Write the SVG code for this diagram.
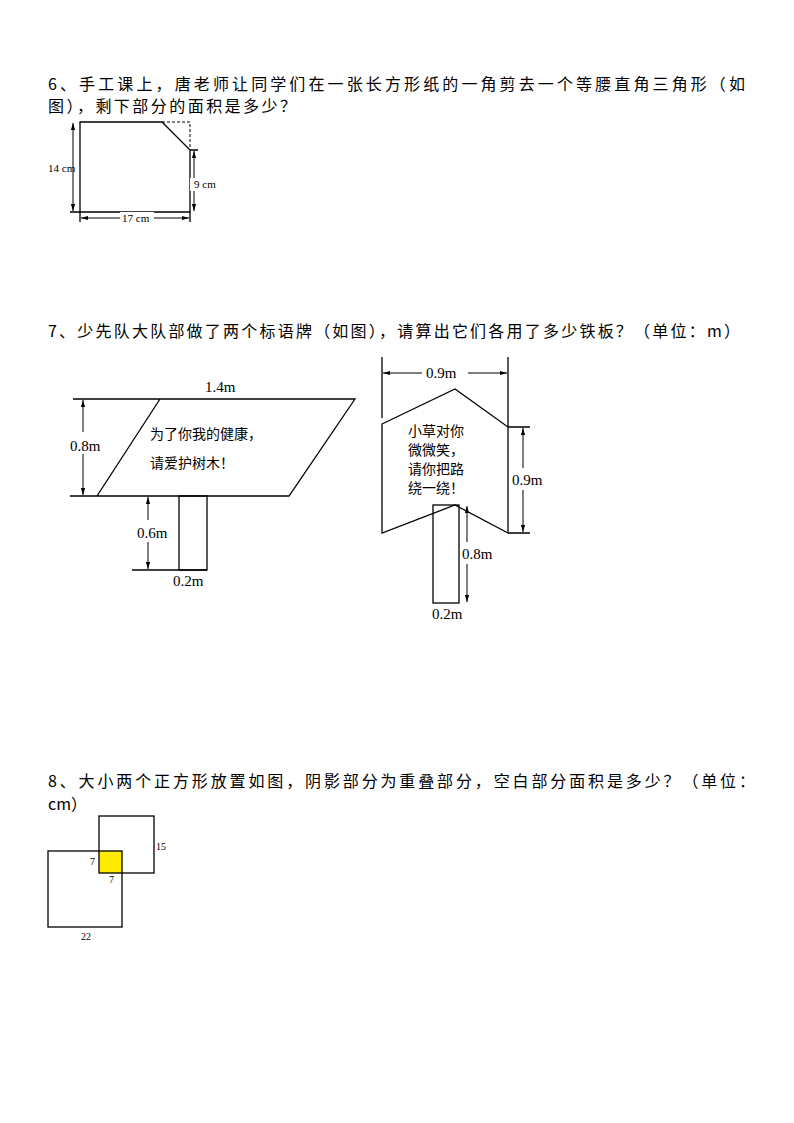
<svg xmlns="http://www.w3.org/2000/svg" width="794" height="1123" viewBox="0 0 794 1123">
<style>
.q{font-family:"Noto Sans CJK SC","Liberation Serif",serif;font-size:16px;fill:#000}
.l{font-family:"Liberation Serif",serif;fill:#000}
.c{font-family:"Noto Sans CJK SC",sans-serif;font-size:14px;fill:#000}
.s{stroke:#000;stroke-width:1.3;fill:none}
.a{stroke:#000;stroke-width:1;fill:none;marker-start:url(#m);marker-end:url(#m)}
</style>
<defs><marker id="m" viewBox="0 0 10 10" refX="10" refY="5" markerWidth="7" markerHeight="7" orient="auto-start-reverse"><path d="M0,2 L10,5 L0,8 Z" fill="#000"/></marker></defs>
<rect width="794" height="1123" fill="#fff"/>
<text class="q" x="48" y="90" textLength="697" lengthAdjust="spacing">6、手工课上，唐老师让同学们在一张长方形纸的一角剪去一个等腰直角三角形（如</text>
<text class="q" x="48" y="112" textLength="248" lengthAdjust="spacing">图），剩下部分的面积是多少？</text>
<g id="fig6">
<path class="s" d="M80,122 H162 L190,150 V212 H80 Z"/>
<path d="M162,122 H190 V150" stroke="#000" stroke-dasharray="3,2" fill="none"/>
<path class="s" d="M190,150 H198 M70,212 H80 M80,212 V222 M190,212 V222"/>
<line class="a" x1="73" y1="123" x2="73" y2="211"/>
<line class="a" x1="194" y1="151" x2="194" y2="211"/>
<line class="a" x1="81" y1="218" x2="189" y2="218"/>
<rect x="120" y="212" width="34" height="12" fill="#fff"/>
<rect x="190" y="178" width="30" height="13" fill="#fff"/>
<text class="l" font-size="11" x="48" y="172">14 cm</text>
<text class="l" font-size="11" x="194" y="188">9 cm</text>
<text class="l" font-size="11" x="122" y="222">17 cm</text>
</g>
<text class="q" x="48" y="337" textLength="692" lengthAdjust="spacing">7、少先队大队部做了两个标语牌（如图），请算出它们各用了多少铁板？（单位：m）</text>
<g id="sign1">
<path class="s" d="M73,399 H355 L289,496 H70 M160,399 L97,496"/>
<rect class="s" x="179" y="496" width="28" height="74"/>
<path class="s" d="M132,570 H207"/>
<line class="a" x1="83" y1="400" x2="83" y2="495"/>
<line class="a" x1="148" y1="497" x2="148" y2="569"/>
<rect x="68" y="432" width="40" height="22" fill="#fff"/>
<rect x="134" y="520" width="40" height="22" fill="#fff"/>
<text class="l" font-size="15" x="205" y="392">1.4m</text>
<text class="l" font-size="15" x="70" y="451">0.8m</text>
<text class="l" font-size="15" x="137" y="538">0.6m</text>
<text class="l" font-size="15" x="173" y="586">0.2m</text>
<text class="c" x="150" y="439">为了你我的健康，</text>
<text class="c" x="150" y="468">请爱护树木！</text>
</g>
<g id="sign2">
<path class="s" d="M382,424 L455,389 L508,427 V533 L455,505 L382,533 Z"/>
<path class="s" d="M382,357 V418 M508,357 V427 M508,427 H530 M508,533 H530"/>
<rect class="s" x="433" y="505" width="26" height="98" fill="#fff"/>
<line class="a" x1="383" y1="373" x2="507" y2="373"/>
<line class="a" x1="523" y1="428" x2="523" y2="532"/>
<line class="a" x1="467" y1="506" x2="467" y2="602"/>
<rect x="422" y="364" width="46" height="18" fill="#fff"/>
<rect x="510" y="468" width="42" height="22" fill="#fff"/>
<rect x="460" y="542" width="40" height="22" fill="#fff"/>
<text class="l" font-size="15" x="426" y="378">0.9m</text>
<text class="l" font-size="15" x="512" y="485">0.9m</text>
<text class="l" font-size="15" x="462" y="559">0.8m</text>
<text class="l" font-size="15" x="432" y="619">0.2m</text>
<text class="c" x="408" y="436">小草对你</text>
<text class="c" x="408" y="455">微微笑，</text>
<text class="c" x="408" y="474">请你把路</text>
<text class="c" x="408" y="493">绕一绕！</text>
</g>
<text class="q" x="48" y="787" textLength="707" lengthAdjust="spacing">8、大小两个正方形放置如图，阴影部分为重叠部分，空白部分面积是多少？（单位：</text>
<text class="q" x="48" y="810">cm）</text>
<g id="fig8">
<rect x="99" y="851" width="23" height="22" fill="#ffeb00"/>
<rect class="s" x="48" y="851" width="74" height="76"/>
<rect class="s" x="99" y="816" width="55" height="57"/>
<text class="l" font-size="10" x="156" y="850">15</text>
<text class="l" font-size="10" x="90" y="865">7</text>
<text class="l" font-size="10" x="109" y="883">7</text>
<text class="l" font-size="10" x="81" y="940">22</text>
</g>
</svg>
